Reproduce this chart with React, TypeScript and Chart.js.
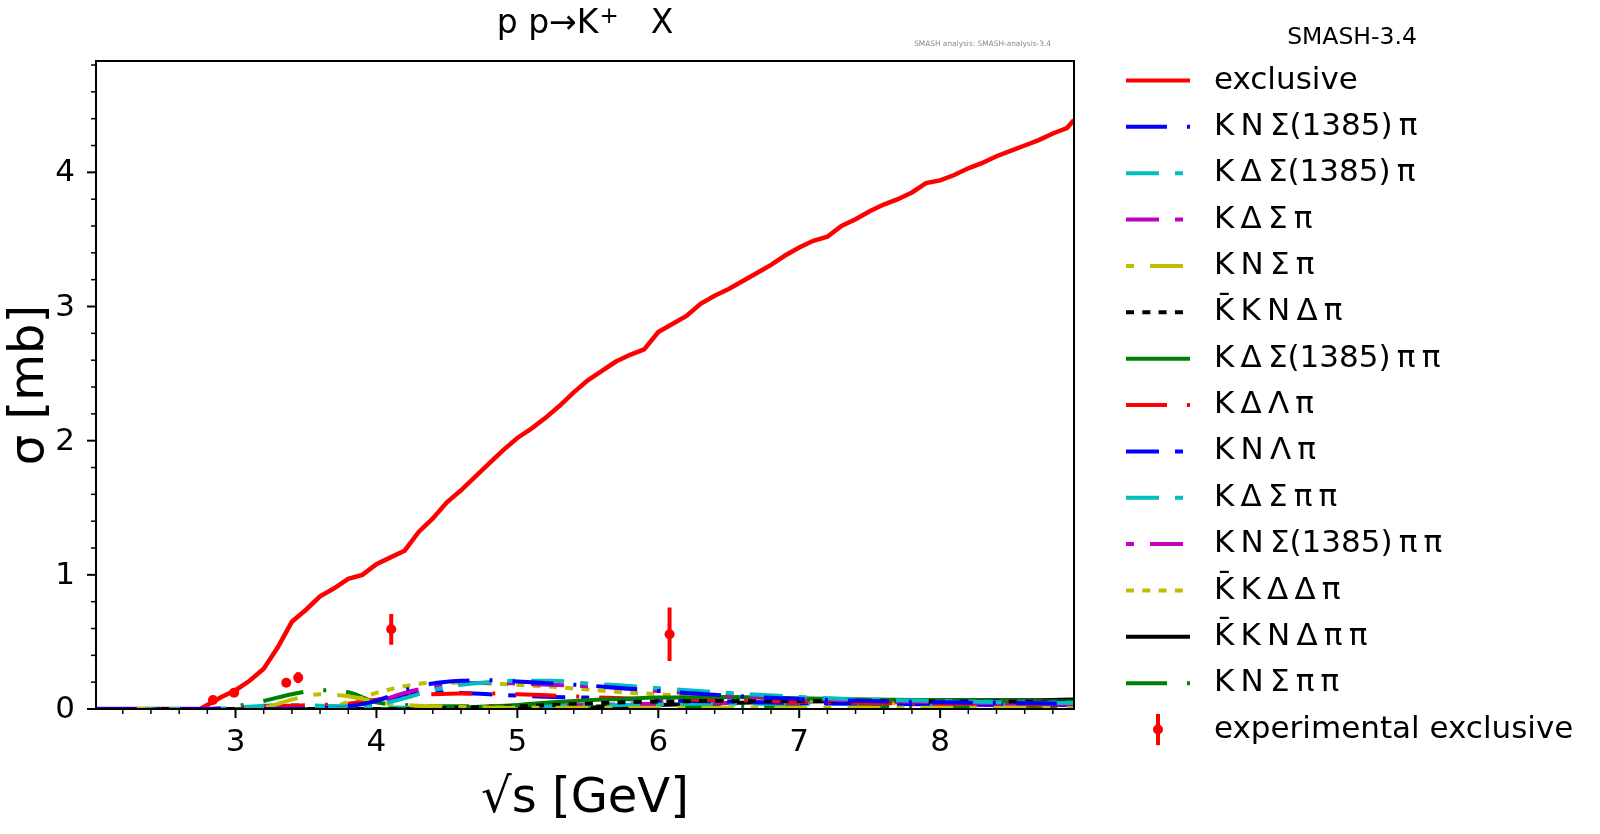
import { useEffect, useRef } from "react";
import { Chart, registerables, type Plugin } from "chart.js";

Chart.register(...registerables);

const FONT = "'DejaVu Sans', sans-serif";

// total exclusive K+ cross section (sqrt(s) in GeV, sigma in mb)
const exclusiveSqrtS = [
  2.01, 2.75, 2.8, 2.9, 3.0, 3.1, 3.2, 3.3, 3.4, 3.5, 3.6, 3.7, 3.8, 3.9, 4.0, 4.1, 4.2, 4.3, 4.4, 4.5, 4.6,
  4.7, 4.8, 4.9, 5.0, 5.1, 5.2, 5.3, 5.4, 5.5, 5.6, 5.7, 5.8, 5.9, 6.0, 6.1, 6.2, 6.3, 6.4, 6.5, 6.6, 6.7,
  6.8, 6.9, 7.0, 7.1, 7.2, 7.3, 7.4, 7.5, 7.6, 7.7, 7.8, 7.9, 8.0, 8.1, 8.2, 8.3, 8.4, 8.5, 8.6, 8.7, 8.8,
  8.9, 8.95,
];
const exclusiveSigma = [
  0, 0, 0.03, 0.09, 0.14, 0.21, 0.3, 0.46, 0.65, 0.74, 0.84, 0.9, 0.97, 1.0, 1.08, 1.13, 1.18, 1.32, 1.42,
  1.54, 1.63, 1.73, 1.83, 1.93, 2.02, 2.09, 2.17, 2.26, 2.36, 2.45, 2.52, 2.59, 2.64, 2.68, 2.81, 2.87, 2.93,
  3.02, 3.08, 3.13, 3.19, 3.25, 3.31, 3.38, 3.44, 3.49, 3.52, 3.6, 3.65, 3.71, 3.76, 3.8, 3.85, 3.92, 3.94,
  3.98, 4.03, 4.07, 4.12, 4.16, 4.2, 4.24, 4.29, 4.33, 4.39,
];

// partial channels, all on one sqrt(s) grid
const channelSqrtS = [
  2.01, 2.8, 3.0, 3.2, 3.4, 3.6, 3.8, 4.0, 4.2, 4.4, 4.6, 4.8, 5.0, 5.25, 5.5, 5.75, 6.0, 6.5, 7.0, 7.5, 8.0,
  8.5, 8.95,
];
const kNSigma1385Pi = [0, 0, 0, 0, 0, 0.005, 0.02, 0.06, 0.14, 0.19, 0.21, 0.215, 0.205, 0.19, 0.175, 0.155, 0.135, 0.1, 0.075, 0.06, 0.05, 0.045, 0.04];
const kDeltaSigma1385Pi = [0, 0, 0, 0, 0, 0, 0.005, 0.03, 0.08, 0.14, 0.18, 0.2, 0.21, 0.21, 0.19, 0.175, 0.155, 0.12, 0.09, 0.07, 0.06, 0.05, 0.045];
const kDeltaSigmaPi = [0, 0, 0, 0, 0, 0, 0.01, 0.05, 0.12, 0.165, 0.19, 0.195, 0.19, 0.18, 0.17, 0.155, 0.135, 0.1, 0.075, 0.06, 0.05, 0.04, 0.035];
const kNSigmaPi = [0, 0, 0, 0.01, 0.07, 0.11, 0.095, 0.055, 0.03, 0.02, 0.015, 0.012, 0.01, 0.01, 0.01, 0.01, 0.01, 0.01, 0.01, 0.01, 0.01, 0.01, 0.01];
const kbarKNDeltaPi = [0, 0, 0, 0, 0, 0, 0, 0, 0, 0.005, 0.01, 0.015, 0.02, 0.03, 0.04, 0.05, 0.055, 0.06, 0.06, 0.06, 0.055, 0.055, 0.05];
const kDeltaSigma1385PiPi = [0, 0, 0, 0, 0, 0, 0, 0, 0, 0, 0.01, 0.02, 0.03, 0.05, 0.065, 0.075, 0.085, 0.09, 0.08, 0.07, 0.065, 0.06, 0.055];
const kDeltaLambdaPi = [0, 0, 0.01, 0.02, 0.025, 0.03, 0.04, 0.07, 0.1, 0.11, 0.115, 0.115, 0.11, 0.1, 0.09, 0.08, 0.075, 0.065, 0.055, 0.045, 0.04, 0.035, 0.03];
const kNLambdaPi = [0, 0, 0, 0, 0, 0, 0.01, 0.04, 0.1, 0.125, 0.12, 0.11, 0.1, 0.09, 0.085, 0.075, 0.065, 0.055, 0.045, 0.04, 0.035, 0.03, 0.03];
const kDeltaSigmaPiPi = [0, 0, 0.01, 0.025, 0.03, 0.025, 0.02, 0.015, 0.01, 0.01, 0.01, 0.012, 0.015, 0.02, 0.025, 0.03, 0.035, 0.04, 0.04, 0.04, 0.04, 0.04, 0.04];
const kNSigma1385PiPi = [0, 0, 0, 0, 0, 0, 0, 0, 0, 0, 0.01, 0.015, 0.02, 0.025, 0.03, 0.035, 0.04, 0.045, 0.045, 0.045, 0.04, 0.04, 0.04];
const kbarKDeltaDeltaPi = [0, 0, 0, 0, 0, 0, 0.05, 0.12, 0.17, 0.195, 0.195, 0.19, 0.18, 0.165, 0.145, 0.125, 0.11, 0.085, 0.065, 0.05, 0.04, 0.035, 0.03];
const kbarKNDeltaPiPi = [0, 0, 0, 0, 0, 0, 0, 0, 0, 0, 0, 0, 0, 0.005, 0.01, 0.02, 0.03, 0.045, 0.055, 0.06, 0.065, 0.065, 0.07];
const kNSigmaPiPi = [0, 0, 0.02, 0.06, 0.11, 0.14, 0.125, 0.05, 0.03, 0.02, 0.02, 0.02, 0.02, 0.02, 0.02, 0.02, 0.02, 0.02, 0.02, 0.02, 0.02, 0.02, 0.02];

const channelLabels = [
  "K N Σ(1385) π",
  "K Δ Σ(1385) π",
  "K Δ Σ π",
  "K N Σ π",
  "K̄ K N Δ π",
  "K Δ Σ(1385) π π",
  "K Δ Λ π",
  "K N Λ π",
  "K Δ Σ π π",
  "K N Σ(1385) π π",
  "K̄ K Δ Δ π",
  "K̄ K N Δ π π",
  "K N Σ π π",
];
const channelSigma = [
  kNSigma1385Pi, kDeltaSigma1385Pi, kDeltaSigmaPi, kNSigmaPi, kbarKNDeltaPi, kDeltaSigma1385PiPi,
  kDeltaLambdaPi, kNLambdaPi, kDeltaSigmaPiPi, kNSigma1385PiPi, kbarKDeltaDeltaPi, kbarKNDeltaPiPi, kNSigmaPiPi,
];
const channelColors = [
  "#0000ff", "#00bfbf", "#bf00bf", "#bfbf00", "#000000", "#008000",
  "#ff0000", "#0000ff", "#00bfbf", "#bf00bf", "#bfbf00", "#000000", "#008000",
];
const dashDot = [41, 20, 3, 20];
const longShort = [33, 16, 8, 16];
const dotted = [8, 8.3];
const channelDashes = [dashDot, longShort, longShort, longShort, dotted, [], dashDot, longShort, longShort, longShort, dotted, [], dashDot];
const channelDashOffsets = [0, 0, 0, 49, 0, 0, 0, 0, 0, 49, 0, 0, 0];

// experimental exclusive points
const expSqrtS = [2.84, 2.99, 3.36, 3.445, 4.105, 6.08];
const expSigma = [0.067, 0.122, 0.196, 0.234, 0.594, 0.557];
const expError = [0.01, 0.01, 0.01, 0.04, 0.115, 0.2];

const xMajorTicks = [3, 4, 5, 6, 7, 8];
const yMajorTicks = [0, 1, 2, 3, 4];

const spaced = (s: string) => s.split(" ").join("\u2009");

const decorations: Plugin<"line"> = {
  id: "decorations",
  afterDraw(chart) {
    const { ctx, chartArea: a } = chart;
    const xs = chart.scales.x;
    const ys = chart.scales.y;
    ctx.save();
    ctx.setLineDash([]);
    ctx.strokeStyle = "#000";

    // ticks (outward, matplotlib style)
    const tick = (px: number, py: number, dx: number, dy: number, w: number) => {
      ctx.lineWidth = w;
      ctx.beginPath();
      ctx.moveTo(px, py);
      ctx.lineTo(px + dx, py + dy);
      ctx.stroke();
    };
    for (let v = 2.2; v < 8.95; v += 0.2) {
      const major = Math.abs(v - Math.round(v)) < 1e-6;
      tick(xs.getPixelForValue(v), a.bottom, 0, major ? 9 : 5, major ? 2 : 1.5);
    }
    for (let v = 0.2; v < 4.83; v += 0.2) {
      const major = Math.abs(v - Math.round(v)) < 1e-6;
      tick(a.left, ys.getPixelForValue(v), major ? -9 : -5, 0, major ? 2 : 1.5);
    }
    tick(a.left, ys.getPixelForValue(0), -9, 0, 2);

    // tick labels
    ctx.fillStyle = "#000";
    ctx.font = `31px ${FONT}`;
    ctx.textBaseline = "middle";
    ctx.textAlign = "center";
    xMajorTicks.forEach((v) => ctx.fillText(String(v), xs.getPixelForValue(v), a.bottom + 34));
    ctx.textAlign = "right";
    yMajorTicks.forEach((v) => ctx.fillText(String(v), a.left - 21, ys.getPixelForValue(v) + 1));

    // frame
    ctx.lineWidth = 2;
    ctx.strokeRect(a.left, a.top, a.right - a.left, a.bottom - a.top);

    // title: p p→K⁺ X with a raised plus
    const cx = (a.left + a.right) / 2;
    ctx.textAlign = "left";
    ctx.font = `33px ${FONT}`;
    const head = "p p→K";
    const tail = "\u2003X";
    const wHead = ctx.measureText(head).width;
    const wTail = ctx.measureText(tail).width;
    ctx.font = `23px ${FONT}`;
    const wPlus = ctx.measureText("+").width;
    const x0 = cx - (wHead + wPlus + wTail) / 2;
    ctx.font = `33px ${FONT}`;
    ctx.fillText(head, x0, 24);
    ctx.fillText(tail, x0 + wHead + wPlus, 24);
    ctx.font = `23px ${FONT}`;
    ctx.fillText("+", x0 + wHead + 1, 17);

    ctx.font = `7.4px ${FONT}`;
    ctx.fillStyle = "#888";
    ctx.textAlign = "right";
    ctx.fillText("SMASH analysis: SMASH-analysis-3.4", 1051, 44);

    // legend
    ctx.fillStyle = "#000";
    ctx.textAlign = "center";
    ctx.font = `23.5px ${FONT}`;
    ctx.fillText("SMASH-3.4", 1352, 38);
    const rowTop = 80.5;
    const rowStep = 46.36;
    const lineX0 = 1126;
    const lineX1 = 1190;
    const textX = 1214;
    const rows = [
      { label: "exclusive", color: "#ff0000", dash: [] as number[], offset: 0 },
      ...channelLabels.map((l, i) => ({
        label: spaced(l),
        color: channelColors[i],
        dash: channelDashes[i],
        offset: channelDashOffsets[i],
      })),
    ];
    ctx.textAlign = "left";
    ctx.font = `31px ${FONT}`;
    rows.forEach((r, i) => {
      const ry = rowTop + i * rowStep;
      ctx.strokeStyle = r.color;
      ctx.lineWidth = 4;
      ctx.lineCap = "butt";
      ctx.setLineDash(r.dash);
      ctx.lineDashOffset = r.offset;
      ctx.beginPath();
      ctx.moveTo(lineX0, ry);
      ctx.lineTo(lineX1, ry);
      ctx.stroke();
      ctx.setLineDash([]);
      ctx.lineDashOffset = 0;
      ctx.fillStyle = "#000";
      ctx.fillText(r.label, textX, ry);
    });
    const ey = rowTop + rows.length * rowStep;
    ctx.strokeStyle = "#ff0000";
    ctx.fillStyle = "#ff0000";
    ctx.lineWidth = 4;
    ctx.beginPath();
    ctx.moveTo(1158, ey - 15.6);
    ctx.lineTo(1158, ey + 15.6);
    ctx.stroke();
    ctx.beginPath();
    ctx.arc(1158, ey, 5, 0, Math.PI * 2);
    ctx.fill();
    ctx.fillStyle = "#000";
    ctx.fillText("experimental exclusive", textX, ey);
    ctx.restore();
  },
};

export default function App() {
  const canvasRef = useRef<HTMLCanvasElement>(null);
  const chartRef = useRef<Chart | null>(null);

  useEffect(() => {
    if (!canvasRef.current) return;
    if (chartRef.current) chartRef.current.destroy();

    const errorBars: ({ x: number; y: number | null })[] = [];
    expSqrtS.forEach((x, i) => {
      errorBars.push({ x, y: expSigma[i] - expError[i] });
      errorBars.push({ x, y: expSigma[i] + expError[i] });
      errorBars.push({ x, y: null });
    });

    const channelSets = channelSigma.map((vals, i) => ({
      label: channelLabels[i],
      data: channelSqrtS.map((x, j) => ({ x, y: vals[j] })),
      borderColor: channelColors[i],
      borderWidth: 4,
      borderDash: channelDashes[i],
      borderDashOffset: channelDashOffsets[i],
      pointRadius: 0,
      cubicInterpolationMode: "monotone" as const,
      fill: false,
      order: 5 + i,
    }));

    chartRef.current = new Chart(canvasRef.current, {
      type: "line",
      data: {
        datasets: [
          {
            label: "exclusive",
            data: exclusiveSqrtS.map((x, i) => ({ x, y: exclusiveSigma[i] })),
            borderColor: "#ff0000",
            borderWidth: 4.5,
            pointRadius: 0,
            tension: 0,
            order: 30,
          },
          ...channelSets,
          {
            label: "experimental exclusive errors",
            data: errorBars,
            borderColor: "#ff0000",
            borderWidth: 4,
            pointRadius: 0,
            spanGaps: false,
            order: 1,
          },
          {
            label: "experimental exclusive",
            data: expSqrtS.map((x, i) => ({ x, y: expSigma[i] })),
            showLine: false,
            pointRadius: 5,
            pointBackgroundColor: "#ff0000",
            pointBorderWidth: 0,
            order: 0,
          },
        ] as any,
      },
      options: {
        responsive: true,
        maintainAspectRatio: false,
        animation: false,
        layout: { padding: { top: 61, right: 526, bottom: 0, left: 0 } },
        plugins: {
          legend: { display: false },
          title: { display: false },
          tooltip: { enabled: false },
        },
        scales: {
          x: {
            type: "linear",
            min: 2.01,
            max: 8.95,
            afterBuildTicks: (s) => {
              s.ticks = xMajorTicks.map((value) => ({ value }));
            },
            afterFit: (s) => {
              s.height = 125;
            },
            grid: { display: false },
            border: { display: false },
            ticks: { display: false },
            title: {
              display: true,
              text: "√s [GeV]",
              color: "#000",
              font: { family: FONT, size: 48 },
              padding: { top: 0, bottom: 6 },
            },
          },
          y: {
            type: "linear",
            min: 0,
            max: 4.83,
            afterBuildTicks: (s) => {
              s.ticks = yMajorTicks.map((value) => ({ value }));
            },
            afterFit: (s) => {
              s.width = 96;
            },
            grid: { display: false },
            border: { display: false },
            ticks: { display: false },
            title: {
              display: true,
              text: "σ [mb]",
              color: "#000",
              font: { family: FONT, size: 48 },
              padding: { top: 2, bottom: 0 },
            },
          },
        },
      },
      plugins: [decorations],
    });

    return () => chartRef.current?.destroy();
  }, []);

  return (
    <div style={{ position: "fixed", left: 0, top: 0, width: 1600, height: 834, background: "#fff" }}>
      <canvas ref={canvasRef} role="img" aria-label="Cross section of p p to K+ X versus sqrt(s) with partial channels" />
    </div>
  );
}
